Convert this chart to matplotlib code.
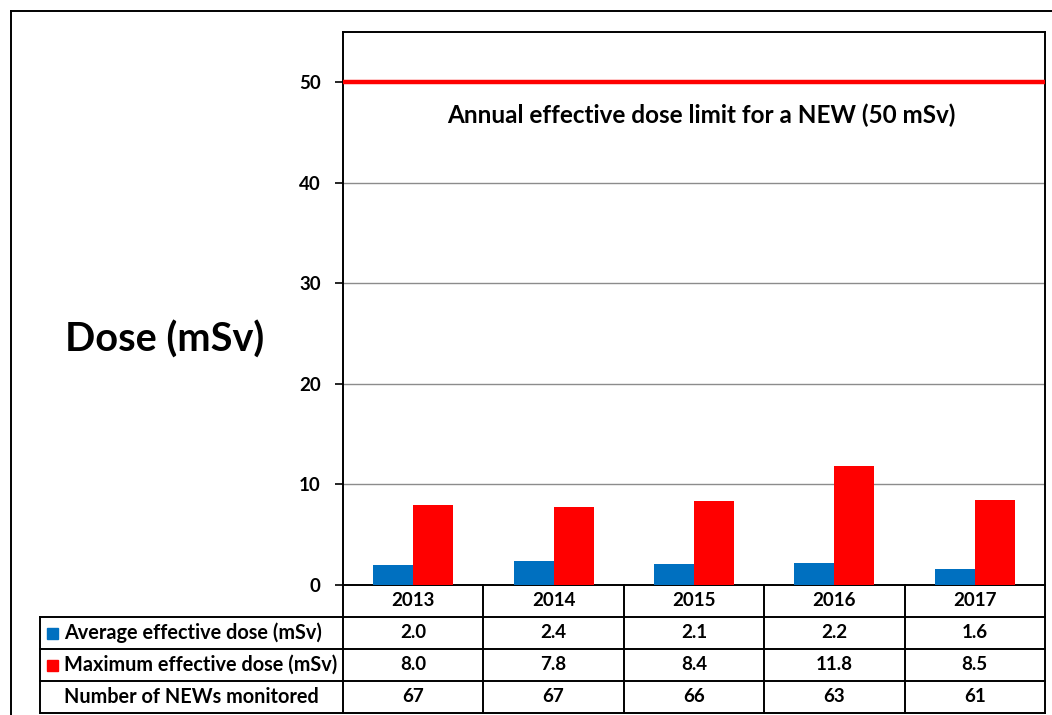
import matplotlib
matplotlib.use("Agg")
import matplotlib.pyplot as plt
from matplotlib.lines import Line2D
from matplotlib.patches import Rectangle
import numpy as np

plt.rcParams['font.family'] = ['Lato', 'DejaVu Sans']
plt.rcParams['font.weight'] = 'bold'

years = ['2013', '2014', '2015', '2016', '2017']
avg_dose = [2.0, 2.4, 2.1, 2.2, 1.6]
max_dose = [8.0, 7.8, 8.4, 11.8, 8.5]
news_monitored = [67, 67, 66, 63, 61]
dose_limit = 50
row_labels = ['Average effective dose (mSv)', 'Maximum effective dose (mSv)',
              'Number of NEWs monitored']

BLUE = '#0070C0'
RED = '#FF0000'
NUM_FS = 13.5
LAB_FS = 14.3

W, H = 1052, 715
fig = plt.figure(figsize=(W / 100, H / 100), dpi=100)


def fx(px):
    return px / W


def fy(py):
    return 1 - py / H


# chart-area frame (runs off the right and bottom edges)
fig.add_artist(Line2D([fx(11), 1.0], [fy(11), fy(11)], color='black', lw=1.4))
fig.add_artist(Line2D([fx(11), fx(11)], [fy(11), 0.0], color='black', lw=1.4))

# plot area
left, right, top, bottom = 343, 1045, 32, 585
ax = fig.add_axes([fx(left), fy(bottom), fx(right - left), (bottom - top) / H])
x = np.arange(len(years))
bw = 0.285
ax.bar(x - bw / 2, avg_dose, bw, color=BLUE, zorder=3)
ax.bar(x + bw / 2, max_dose, bw, color=RED, zorder=3)
ax.axhline(dose_limit, color=RED, lw=3.2, zorder=4)
ax.text(2.05, 46.7, 'Annual effective dose limit for a NEW (50 mSv)',
        ha='center', va='center', fontsize=17.5, fontweight='bold')

ax.set_xlim(-0.5, len(years) - 0.5)
ax.set_ylim(0, 55)
ax.set_yticks(range(0, 51, 10))
ax.yaxis.grid(True, color='#8c8c8c', lw=1.0, zorder=0)
ax.set_xticks([])
ax.tick_params(axis='y', direction='out', length=6, width=1.2, pad=10,
               labelsize=NUM_FS)
for lbl in ax.get_yticklabels():
    lbl.set_fontweight('bold')
for s in ax.spines.values():
    s.set_linewidth(1.4)

fig.text(fx(165), fy(340), 'Dose (mSv)', ha='center', va='center',
         fontsize=28.5, fontweight='bold')

# data table below the plot
tl, tb = 40, 713
unit = (right - left) / len(years)
xl = -0.5 - (left - tl) / unit
tab = fig.add_axes([fx(tl), fy(tb), fx(right - tl), (tb - bottom) / H])
tab.set_xlim(xl, len(years) - 0.5)
tab.set_ylim(4, 0)
tab.axis('off')

lk = dict(color='black', lw=1.4, clip_on=False)
for r in range(1, 5):
    tab.plot([xl, len(years) - 0.5], [r, r], **lk)
for c in np.arange(-0.5, len(years), 1.0):
    tab.plot([c, c], [0, 4], **lk)
tab.plot([xl, xl], [1, 4], **lk)

for i, yr in enumerate(years):
    cells = [yr, f'{avg_dose[i]:.1f}', f'{max_dose[i]:.1f}', f'{news_monitored[i]}']
    for r, s in enumerate(cells):
        tab.text(i, r + 0.5, s, ha='center', va='center', fontsize=NUM_FS,
                 fontweight='bold')

key_x = xl + 7 / unit
key_w = 11 / unit
key_h = 11 / 32
for r, col in [(1, BLUE), (2, RED)]:
    tab.add_patch(Rectangle((key_x, r + 0.5 - key_h / 2), key_w, key_h,
                            color=col, clip_on=False))
for r, lab in enumerate(row_labels, start=1):
    tab.text(xl + 24 / unit, r + 0.5, lab, ha='left', va='center', fontsize=LAB_FS,
             fontweight='bold')

fig.savefig('out.png', dpi=100)
